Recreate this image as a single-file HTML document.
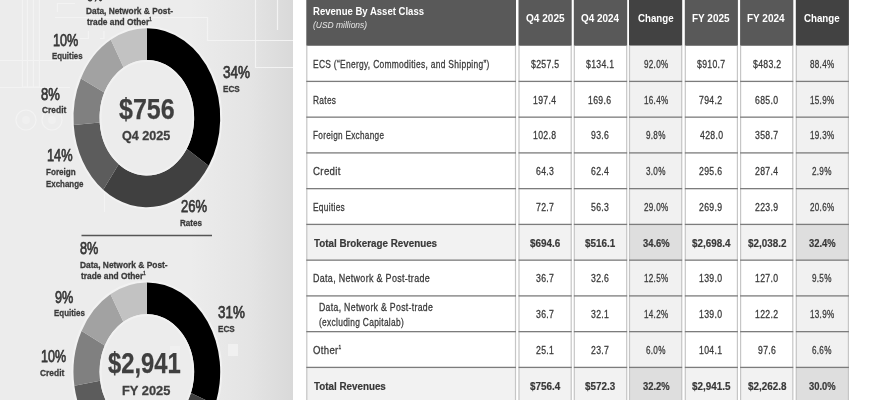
<!DOCTYPE html>
<html><head><meta charset="utf-8"><style>
html,body{margin:0;padding:0}
body{width:870px;height:400px;overflow:hidden;position:relative;background:#fff;font-family:"Liberation Sans",sans-serif}
.t{position:absolute;white-space:nowrap;line-height:1;transform-origin:0 0}
.sup{font-size:0.5em;vertical-align:0.9em}
#panel{position:absolute;left:0;top:0;width:293px;height:400px;background:linear-gradient(90deg,#ececec 0px,#ececec 190px,#e4e4e4 250px,#d9d9d9 293px)}
svg{position:absolute;left:0;top:0}
#wrap{position:absolute;left:0;top:0;width:870px;height:400px;filter:grayscale(1) blur(0.3px)}
.hd{position:absolute;top:0;height:45.5px}
.cell{position:absolute}
.vb{position:absolute;top:45px;height:355px;width:1px;background:#cfcfcf}
.hb{position:absolute;height:1px;background:#8f8f8f}
</style></head><body><div id="wrap">
<div id="panel"></div>
<svg width="293" height="400" viewBox="0 0 293 400">
<g stroke="#f3f3f3" stroke-width="1.2" fill="none">
<path d="M22.5 0V87M27.5 0V87M33.5 0V87M39.5 0V87M22.5 87H39.5"/>
<path d="M0 60.5H80M0 87.5H70"/>
<path d="M55 17.5H207.5V40.5H293M255.5 0V67.5H293M277.5 0V30"/>
<path d="M57.5 3V12M57.5 3.5H75M88.5 31V38.5H80M100 38.5H104V31"/>
<circle cx="26" cy="120" r="10"/><circle cx="52" cy="120" r="10"/>
<path d="M104.5 185V212"/>
</g>
<g fill="#f0f0f0"><circle cx="26" cy="120" r="4"/><circle cx="52" cy="120" r="4"/>
<rect x="170" y="346" width="10" height="14"/><rect x="228" y="344" width="10" height="12"/></g>
<ellipse cx="146.85" cy="117.75" rx="74.35" ry="90.45" fill="none" stroke="#f2f2f2" stroke-width="2"/><path d="M146.85 28.30A73.35 89.45 0 0 1 208.69 165.86L186.77 148.81A47.35 57.75 0 0 0 146.85 60.00Z" fill="#000000"/><path d="M208.69 165.86A73.35 89.45 0 0 1 103.24 189.68L118.70 164.19A47.35 57.75 0 0 0 186.77 148.81Z" fill="#404040"/><path d="M103.24 189.68A73.35 89.45 0 0 1 73.74 124.93L99.65 122.39A47.35 57.75 0 0 0 118.70 164.19Z" fill="#5c5c5c"/><path d="M73.74 124.93A73.35 89.45 0 0 1 80.92 78.55L104.29 92.44A47.35 57.75 0 0 0 99.65 122.39Z" fill="#808080"/><path d="M80.92 78.55A73.35 89.45 0 0 1 110.83 39.83L123.60 67.44A47.35 57.75 0 0 0 104.29 92.44Z" fill="#a2a2a2"/><path d="M110.83 39.83A73.35 89.45 0 0 1 146.85 28.30L146.85 60.00A47.35 57.75 0 0 0 123.60 67.44Z" fill="#c2c2c2"/><ellipse cx="146.85" cy="117.75" rx="46.25" ry="56.65" fill="none" stroke="#f1f1f1" stroke-width="2"/><ellipse cx="146.85" cy="371.85" rx="74.35" ry="90.45" fill="none" stroke="#f2f2f2" stroke-width="2"/><path d="M146.85 282.40A73.35 89.45 0 0 1 215.12 404.57L190.92 392.98A47.35 57.75 0 0 0 146.85 314.10Z" fill="#000000"/><path d="M215.12 404.57A73.35 89.45 0 0 1 111.67 450.34L124.14 422.53A47.35 57.75 0 0 0 190.92 392.98Z" fill="#404040"/><path d="M111.67 450.34A73.35 89.45 0 0 1 74.40 385.78L100.08 380.85A47.35 57.75 0 0 0 124.14 422.53Z" fill="#5c5c5c"/><path d="M74.40 385.78A73.35 89.45 0 0 1 81.62 330.94L104.74 345.44A47.35 57.75 0 0 0 100.08 380.85Z" fill="#808080"/><path d="M81.62 330.94A73.35 89.45 0 0 1 110.45 294.19L123.35 321.71A47.35 57.75 0 0 0 104.74 345.44Z" fill="#a2a2a2"/><path d="M110.45 294.19A73.35 89.45 0 0 1 146.85 282.40L146.85 314.10A47.35 57.75 0 0 0 123.35 321.71Z" fill="#c2c2c2"/><ellipse cx="146.85" cy="371.85" rx="46.25" ry="56.65" fill="none" stroke="#f1f1f1" stroke-width="2"/>
<line x1="81.5" y1="235.5" x2="212" y2="235.5" stroke="#555" stroke-width="1.3"/>
</svg>
<svg width="870" height="400" viewBox="0 0 870 400"><rect x="306.30" y="0" width="209.70" height="45.75" fill="#595959"/><rect x="306.30" y="224.40" width="209.70" height="35.75" fill="#f2f2f2"/><rect x="306.30" y="367.40" width="209.70" height="35.75" fill="#f2f2f2"/><rect x="306.20" y="45.75" width="1.20" height="354.25" fill="#c6c6c6"/><rect x="514.90" y="45.75" width="1.20" height="354.25" fill="#c6c6c6"/><rect x="306.30" y="80.75" width="209.70" height="1.30" fill="#7c7c7c"/><rect x="306.30" y="116.50" width="209.70" height="1.30" fill="#7c7c7c"/><rect x="306.30" y="152.25" width="209.70" height="1.30" fill="#7c7c7c"/><rect x="306.30" y="188.00" width="209.70" height="1.30" fill="#7c7c7c"/><rect x="306.30" y="223.75" width="209.70" height="1.30" fill="#7c7c7c"/><rect x="306.30" y="259.50" width="209.70" height="1.30" fill="#7c7c7c"/><rect x="306.30" y="295.25" width="209.70" height="1.30" fill="#7c7c7c"/><rect x="306.30" y="331.00" width="209.70" height="1.30" fill="#7c7c7c"/><rect x="306.30" y="366.75" width="209.70" height="1.30" fill="#7c7c7c"/><rect x="518.50" y="0" width="53.20" height="45.75" fill="#595959"/><rect x="518.50" y="224.40" width="53.20" height="35.75" fill="#f2f2f2"/><rect x="518.50" y="367.40" width="53.20" height="35.75" fill="#f2f2f2"/><rect x="518.40" y="45.75" width="1.20" height="354.25" fill="#c6c6c6"/><rect x="570.60" y="45.75" width="1.20" height="354.25" fill="#c6c6c6"/><rect x="518.50" y="80.75" width="53.20" height="1.30" fill="#7c7c7c"/><rect x="518.50" y="116.50" width="53.20" height="1.30" fill="#7c7c7c"/><rect x="518.50" y="152.25" width="53.20" height="1.30" fill="#7c7c7c"/><rect x="518.50" y="188.00" width="53.20" height="1.30" fill="#7c7c7c"/><rect x="518.50" y="223.75" width="53.20" height="1.30" fill="#7c7c7c"/><rect x="518.50" y="259.50" width="53.20" height="1.30" fill="#7c7c7c"/><rect x="518.50" y="295.25" width="53.20" height="1.30" fill="#7c7c7c"/><rect x="518.50" y="331.00" width="53.20" height="1.30" fill="#7c7c7c"/><rect x="518.50" y="366.75" width="53.20" height="1.30" fill="#7c7c7c"/><rect x="573.80" y="0" width="53.40" height="45.75" fill="#595959"/><rect x="573.80" y="224.40" width="53.40" height="35.75" fill="#f2f2f2"/><rect x="573.80" y="367.40" width="53.40" height="35.75" fill="#f2f2f2"/><rect x="573.70" y="45.75" width="1.20" height="354.25" fill="#c6c6c6"/><rect x="626.10" y="45.75" width="1.20" height="354.25" fill="#c6c6c6"/><rect x="573.80" y="80.75" width="53.40" height="1.30" fill="#7c7c7c"/><rect x="573.80" y="116.50" width="53.40" height="1.30" fill="#7c7c7c"/><rect x="573.80" y="152.25" width="53.40" height="1.30" fill="#7c7c7c"/><rect x="573.80" y="188.00" width="53.40" height="1.30" fill="#7c7c7c"/><rect x="573.80" y="223.75" width="53.40" height="1.30" fill="#7c7c7c"/><rect x="573.80" y="259.50" width="53.40" height="1.30" fill="#7c7c7c"/><rect x="573.80" y="295.25" width="53.40" height="1.30" fill="#7c7c7c"/><rect x="573.80" y="331.00" width="53.40" height="1.30" fill="#7c7c7c"/><rect x="573.80" y="366.75" width="53.40" height="1.30" fill="#7c7c7c"/><rect x="629.00" y="0" width="53.20" height="45.75" fill="#424242"/><rect x="629.00" y="45.75" width="53.20" height="35.65" fill="#f1f1f1"/><rect x="629.00" y="81.40" width="53.20" height="35.75" fill="#f1f1f1"/><rect x="629.00" y="117.15" width="53.20" height="35.75" fill="#f1f1f1"/><rect x="629.00" y="152.90" width="53.20" height="35.75" fill="#f1f1f1"/><rect x="629.00" y="188.65" width="53.20" height="35.75" fill="#f1f1f1"/><rect x="629.00" y="224.40" width="53.20" height="35.75" fill="#dedede"/><rect x="629.00" y="260.15" width="53.20" height="35.75" fill="#f1f1f1"/><rect x="629.00" y="295.90" width="53.20" height="35.75" fill="#f1f1f1"/><rect x="629.00" y="331.65" width="53.20" height="35.75" fill="#f1f1f1"/><rect x="629.00" y="367.40" width="53.20" height="35.75" fill="#dedede"/><rect x="628.90" y="45.75" width="1.20" height="354.25" fill="#c6c6c6"/><rect x="681.10" y="45.75" width="1.20" height="354.25" fill="#c6c6c6"/><rect x="629.00" y="80.75" width="53.20" height="1.30" fill="#7c7c7c"/><rect x="629.00" y="116.50" width="53.20" height="1.30" fill="#7c7c7c"/><rect x="629.00" y="152.25" width="53.20" height="1.30" fill="#7c7c7c"/><rect x="629.00" y="188.00" width="53.20" height="1.30" fill="#7c7c7c"/><rect x="629.00" y="223.75" width="53.20" height="1.30" fill="#7c7c7c"/><rect x="629.00" y="259.50" width="53.20" height="1.30" fill="#7c7c7c"/><rect x="629.00" y="295.25" width="53.20" height="1.30" fill="#7c7c7c"/><rect x="629.00" y="331.00" width="53.20" height="1.30" fill="#7c7c7c"/><rect x="629.00" y="366.75" width="53.20" height="1.30" fill="#7c7c7c"/><rect x="684.80" y="0" width="53.10" height="45.75" fill="#595959"/><rect x="684.80" y="224.40" width="53.10" height="35.75" fill="#f2f2f2"/><rect x="684.80" y="367.40" width="53.10" height="35.75" fill="#f2f2f2"/><rect x="684.70" y="45.75" width="1.20" height="354.25" fill="#c6c6c6"/><rect x="736.80" y="45.75" width="1.20" height="354.25" fill="#c6c6c6"/><rect x="684.80" y="80.75" width="53.10" height="1.30" fill="#7c7c7c"/><rect x="684.80" y="116.50" width="53.10" height="1.30" fill="#7c7c7c"/><rect x="684.80" y="152.25" width="53.10" height="1.30" fill="#7c7c7c"/><rect x="684.80" y="188.00" width="53.10" height="1.30" fill="#7c7c7c"/><rect x="684.80" y="223.75" width="53.10" height="1.30" fill="#7c7c7c"/><rect x="684.80" y="259.50" width="53.10" height="1.30" fill="#7c7c7c"/><rect x="684.80" y="295.25" width="53.10" height="1.30" fill="#7c7c7c"/><rect x="684.80" y="331.00" width="53.10" height="1.30" fill="#7c7c7c"/><rect x="684.80" y="366.75" width="53.10" height="1.30" fill="#7c7c7c"/><rect x="740.10" y="0" width="53.20" height="45.75" fill="#595959"/><rect x="740.10" y="224.40" width="53.20" height="35.75" fill="#f2f2f2"/><rect x="740.10" y="367.40" width="53.20" height="35.75" fill="#f2f2f2"/><rect x="740.00" y="45.75" width="1.20" height="354.25" fill="#c6c6c6"/><rect x="792.20" y="45.75" width="1.20" height="354.25" fill="#c6c6c6"/><rect x="740.10" y="80.75" width="53.20" height="1.30" fill="#7c7c7c"/><rect x="740.10" y="116.50" width="53.20" height="1.30" fill="#7c7c7c"/><rect x="740.10" y="152.25" width="53.20" height="1.30" fill="#7c7c7c"/><rect x="740.10" y="188.00" width="53.20" height="1.30" fill="#7c7c7c"/><rect x="740.10" y="223.75" width="53.20" height="1.30" fill="#7c7c7c"/><rect x="740.10" y="259.50" width="53.20" height="1.30" fill="#7c7c7c"/><rect x="740.10" y="295.25" width="53.20" height="1.30" fill="#7c7c7c"/><rect x="740.10" y="331.00" width="53.20" height="1.30" fill="#7c7c7c"/><rect x="740.10" y="366.75" width="53.20" height="1.30" fill="#7c7c7c"/><rect x="795.80" y="0" width="53.10" height="45.75" fill="#424242"/><rect x="795.80" y="45.75" width="53.10" height="35.65" fill="#f1f1f1"/><rect x="795.80" y="81.40" width="53.10" height="35.75" fill="#f1f1f1"/><rect x="795.80" y="117.15" width="53.10" height="35.75" fill="#f1f1f1"/><rect x="795.80" y="152.90" width="53.10" height="35.75" fill="#f1f1f1"/><rect x="795.80" y="188.65" width="53.10" height="35.75" fill="#f1f1f1"/><rect x="795.80" y="224.40" width="53.10" height="35.75" fill="#dedede"/><rect x="795.80" y="260.15" width="53.10" height="35.75" fill="#f1f1f1"/><rect x="795.80" y="295.90" width="53.10" height="35.75" fill="#f1f1f1"/><rect x="795.80" y="331.65" width="53.10" height="35.75" fill="#f1f1f1"/><rect x="795.80" y="367.40" width="53.10" height="35.75" fill="#dedede"/><rect x="795.70" y="45.75" width="1.20" height="354.25" fill="#c6c6c6"/><rect x="847.80" y="45.75" width="1.20" height="354.25" fill="#c6c6c6"/><rect x="795.80" y="80.75" width="53.10" height="1.30" fill="#7c7c7c"/><rect x="795.80" y="116.50" width="53.10" height="1.30" fill="#7c7c7c"/><rect x="795.80" y="152.25" width="53.10" height="1.30" fill="#7c7c7c"/><rect x="795.80" y="188.00" width="53.10" height="1.30" fill="#7c7c7c"/><rect x="795.80" y="223.75" width="53.10" height="1.30" fill="#7c7c7c"/><rect x="795.80" y="259.50" width="53.10" height="1.30" fill="#7c7c7c"/><rect x="795.80" y="295.25" width="53.10" height="1.30" fill="#7c7c7c"/><rect x="795.80" y="331.00" width="53.10" height="1.30" fill="#7c7c7c"/><rect x="795.80" y="366.75" width="53.10" height="1.30" fill="#7c7c7c"/></svg>
<div class="t" style="left:87.38px;top:-13.00px;font-size:17.4px;font-weight:400;font-style:normal;color:#383838;-webkit-text-stroke:0.75px #383838;transform:scaleX(0.6250)">8%</div>
<div class="t" style="left:85.85px;top:5.80px;font-size:9.8px;font-weight:700;font-style:normal;color:#3a3a3a;-webkit-text-stroke:0.3px #3a3a3a;transform:scaleX(0.8495)">Data, Network &amp; Post-</div>
<div class="t" style="left:86.70px;top:17.30px;font-size:9.8px;font-weight:700;font-style:normal;color:#3a3a3a;-webkit-text-stroke:0.3px #3a3a3a;transform:scaleX(0.8533)">trade and Other<span class="sup">1</span></div>
<div class="t" style="left:53.27px;top:31.50px;font-size:17.4px;font-weight:400;font-style:normal;color:#383838;-webkit-text-stroke:0.75px #383838;transform:scaleX(0.7273)">10%</div>
<div class="t" style="left:52.00px;top:50.50px;font-size:9.8px;font-weight:700;font-style:normal;color:#3a3a3a;-webkit-text-stroke:0.3px #3a3a3a;transform:scaleX(0.8027)">Equities</div>
<div class="t" style="left:41.05px;top:85.80px;font-size:17.4px;font-weight:400;font-style:normal;color:#383838;-webkit-text-stroke:0.75px #383838;transform:scaleX(0.7500)">8%</div>
<div class="t" style="left:42.00px;top:105.30px;font-size:9.8px;font-weight:700;font-style:normal;color:#3a3a3a;-webkit-text-stroke:0.3px #3a3a3a;transform:scaleX(0.8571)">Credit</div>
<div class="t" style="left:47.26px;top:146.70px;font-size:17.4px;font-weight:400;font-style:normal;color:#383838;-webkit-text-stroke:0.75px #383838;transform:scaleX(0.7364)">14%</div>
<div class="t" style="left:45.97px;top:166.80px;font-size:9.8px;font-weight:700;font-style:normal;color:#3a3a3a;-webkit-text-stroke:0.3px #3a3a3a;transform:scaleX(0.8257)">Foreign</div>
<div class="t" style="left:45.99px;top:178.50px;font-size:9.8px;font-weight:700;font-style:normal;color:#3a3a3a;-webkit-text-stroke:0.3px #3a3a3a;transform:scaleX(0.8089)">Exchange</div>
<div class="t" style="left:222.97px;top:63.90px;font-size:17.4px;font-weight:400;font-style:normal;color:#383838;-webkit-text-stroke:0.75px #383838;transform:scaleX(0.7773)">34%</div>
<div class="t" style="left:223.17px;top:83.50px;font-size:9.8px;font-weight:700;font-style:normal;color:#3a3a3a;-webkit-text-stroke:0.3px #3a3a3a;transform:scaleX(0.8289)">ECS</div>
<div class="t" style="left:180.75px;top:197.90px;font-size:17.4px;font-weight:400;font-style:normal;color:#383838;-webkit-text-stroke:0.75px #383838;transform:scaleX(0.7500)">26%</div>
<div class="t" style="left:180.42px;top:217.60px;font-size:9.8px;font-weight:700;font-style:normal;color:#3a3a3a;-webkit-text-stroke:0.3px #3a3a3a;transform:scaleX(0.8260)">Rates</div>
<div class="t" style="left:118.66px;top:94.20px;font-size:29.8px;font-weight:700;font-style:normal;color:#3f3f3f;-webkit-text-stroke:0.25px #3f3f3f;transform:scaleX(0.8391)">$756</div>
<div class="t" style="left:122.20px;top:129.30px;font-size:13.4px;font-weight:700;font-style:normal;color:#3f3f3f;-webkit-text-stroke:0.3px #3f3f3f;transform:scaleX(0.9412)">Q4 2025</div>
<div class="t" style="left:79.77px;top:239.90px;font-size:17.4px;font-weight:400;font-style:normal;color:#383838;-webkit-text-stroke:0.75px #383838;transform:scaleX(0.7292)">8%</div>
<div class="t" style="left:79.64px;top:260.10px;font-size:9.8px;font-weight:700;font-style:normal;color:#3a3a3a;-webkit-text-stroke:0.3px #3a3a3a;transform:scaleX(0.8564)">Data, Network &amp; Post-</div>
<div class="t" style="left:80.50px;top:271.40px;font-size:9.8px;font-weight:700;font-style:normal;color:#3a3a3a;-webkit-text-stroke:0.3px #3a3a3a;transform:scaleX(0.8533)">trade and Other<span class="sup">1</span></div>
<div class="t" style="left:54.52px;top:289.10px;font-size:17.4px;font-weight:400;font-style:normal;color:#383838;-webkit-text-stroke:0.75px #383838;transform:scaleX(0.7292)">9%</div>
<div class="t" style="left:54.19px;top:307.60px;font-size:9.8px;font-weight:700;font-style:normal;color:#3a3a3a;-webkit-text-stroke:0.3px #3a3a3a;transform:scaleX(0.8108)">Equities</div>
<div class="t" style="left:40.53px;top:348.25px;font-size:17.4px;font-weight:400;font-style:normal;color:#383838;-webkit-text-stroke:0.75px #383838;transform:scaleX(0.7197)">10%</div>
<div class="t" style="left:39.75px;top:367.60px;font-size:9.8px;font-weight:700;font-style:normal;color:#3a3a3a;-webkit-text-stroke:0.3px #3a3a3a;transform:scaleX(0.8571)">Credit</div>
<div class="t" style="left:218.23px;top:303.90px;font-size:17.4px;font-weight:400;font-style:normal;color:#383838;-webkit-text-stroke:0.75px #383838;transform:scaleX(0.7697)">31%</div>
<div class="t" style="left:218.17px;top:323.60px;font-size:9.8px;font-weight:700;font-style:normal;color:#3a3a3a;-webkit-text-stroke:0.3px #3a3a3a;transform:scaleX(0.8289)">ECS</div>
<div class="t" style="left:108.30px;top:348.00px;font-size:29.8px;font-weight:700;font-style:normal;color:#3f3f3f;-webkit-text-stroke:0.25px #3f3f3f;transform:scaleX(0.7989)">$2,941</div>
<div class="t" style="left:122.24px;top:384.20px;font-size:13.4px;font-weight:700;font-style:normal;color:#3f3f3f;-webkit-text-stroke:0.3px #3f3f3f;transform:scaleX(0.9592)">FY 2025</div>
<div class="t" style="left:312.68px;top:4.50px;font-size:11.6px;font-weight:700;font-style:normal;color:#ffffff;transform:scaleX(0.8231)">Revenue By Asset Class</div>
<div class="t" style="left:313.20px;top:20.40px;font-size:9.4px;font-weight:400;font-style:italic;color:#e4e4e4;transform:scaleX(0.9034)">(USD millions)</div>
<div class="t" style="left:525.80px;top:12.20px;font-size:11.6px;font-weight:700;font-style:normal;color:#ffffff;transform:scaleX(0.8682)">Q4 2025</div>
<div class="t" style="left:580.90px;top:12.20px;font-size:11.6px;font-weight:700;font-style:normal;color:#ffffff;transform:scaleX(0.8556)">Q4 2024</div>
<div class="t" style="left:638.10px;top:12.20px;font-size:11.6px;font-weight:700;font-style:normal;color:#ffffff;transform:scaleX(0.8381)">Change</div>
<div class="t" style="left:691.74px;top:12.20px;font-size:11.6px;font-weight:700;font-style:normal;color:#ffffff;transform:scaleX(0.8605)">FY 2025</div>
<div class="t" style="left:747.44px;top:12.20px;font-size:11.6px;font-weight:700;font-style:normal;color:#ffffff;transform:scaleX(0.8605)">FY 2024</div>
<div class="t" style="left:804.40px;top:12.20px;font-size:11.6px;font-weight:700;font-style:normal;color:#ffffff;transform:scaleX(0.8381)">Change</div>
<div class="t" style="left:313.06px;top:58.80px;font-size:11.4px;font-weight:400;font-style:normal;color:#3a3a3a;letter-spacing:0.4px;-webkit-text-stroke:0.3px #3a3a3a;transform:scaleX(0.7392)">ECS (&ldquo;Energy, Commodities, and Shipping&rdquo;)</div>
<div class="t" style="left:312.97px;top:94.55px;font-size:11.4px;font-weight:400;font-style:normal;color:#3a3a3a;letter-spacing:0.4px;-webkit-text-stroke:0.3px #3a3a3a;transform:scaleX(0.7333)">Rates</div>
<div class="t" style="left:312.98px;top:130.30px;font-size:11.4px;font-weight:400;font-style:normal;color:#3a3a3a;letter-spacing:0.4px;-webkit-text-stroke:0.3px #3a3a3a;transform:scaleX(0.7206)">Foreign Exchange</div>
<div class="t" style="left:312.85px;top:166.05px;font-size:11.4px;font-weight:400;font-style:normal;color:#3a3a3a;letter-spacing:0.4px;-webkit-text-stroke:0.3px #3a3a3a;transform:scaleX(0.8484)">Credit</div>
<div class="t" style="left:312.97px;top:201.80px;font-size:11.4px;font-weight:400;font-style:normal;color:#3a3a3a;letter-spacing:0.4px;-webkit-text-stroke:0.3px #3a3a3a;transform:scaleX(0.7333)">Equities</div>
<div class="t" style="left:313.80px;top:237.55px;font-size:11.4px;font-weight:700;font-style:normal;color:#383838;-webkit-text-stroke:0.2px #383838;transform:scaleX(0.8615)">Total Brokerage Revenues</div>
<div class="t" style="left:312.71px;top:273.30px;font-size:11.4px;font-weight:400;font-style:normal;color:#3a3a3a;letter-spacing:0.4px;-webkit-text-stroke:0.3px #3a3a3a;transform:scaleX(0.7850)">Data, Network &amp; Post-trade</div>
<div class="t" style="left:319.23px;top:301.70px;font-size:11.4px;font-weight:400;font-style:normal;color:#3a3a3a;letter-spacing:0.4px;-webkit-text-stroke:0.3px #3a3a3a;transform:scaleX(0.7660)">Data, Network &amp; Post-trade</div>
<div class="t" style="left:319.26px;top:316.70px;font-size:11.4px;font-weight:400;font-style:normal;color:#3a3a3a;letter-spacing:0.4px;-webkit-text-stroke:0.3px #3a3a3a;transform:scaleX(0.7368)">(excluding Capitalab)</div>
<div class="t" style="left:313.30px;top:344.68px;font-size:11.4px;font-weight:400;font-style:normal;color:#3a3a3a;letter-spacing:0.4px;-webkit-text-stroke:0.3px #3a3a3a;transform:scaleX(0.8394)">Other<span class="sup">1</span></div>
<div class="t" style="left:313.80px;top:380.55px;font-size:11.4px;font-weight:700;font-style:normal;color:#383838;-webkit-text-stroke:0.2px #383838;transform:scaleX(0.8614)">Total Revenues</div>
<div class="t" style="left:530.89px;top:58.80px;font-size:11.4px;font-weight:400;font-style:normal;color:#3a3a3a;letter-spacing:0.4px;-webkit-text-stroke:0.3px #3a3a3a;transform:scaleX(0.7629)">$257.5</div>
<div class="t" style="left:586.47px;top:58.80px;font-size:11.4px;font-weight:400;font-style:normal;color:#3a3a3a;letter-spacing:0.4px;-webkit-text-stroke:0.3px #3a3a3a;transform:scaleX(0.7629)">$134.1</div>
<div class="t" style="left:643.88px;top:58.80px;font-size:11.4px;font-weight:400;font-style:normal;color:#3a3a3a;letter-spacing:0.4px;-webkit-text-stroke:0.3px #3a3a3a;transform:scaleX(0.7130)">92.0%</div>
<div class="t" style="left:697.37px;top:58.80px;font-size:11.4px;font-weight:400;font-style:normal;color:#3a3a3a;letter-spacing:0.4px;-webkit-text-stroke:0.3px #3a3a3a;transform:scaleX(0.7629)">$910.7</div>
<div class="t" style="left:753.07px;top:58.80px;font-size:11.4px;font-weight:400;font-style:normal;color:#3a3a3a;letter-spacing:0.4px;-webkit-text-stroke:0.3px #3a3a3a;transform:scaleX(0.7629)">$483.2</div>
<div class="t" style="left:809.88px;top:58.80px;font-size:11.4px;font-weight:400;font-style:normal;color:#3a3a3a;letter-spacing:0.4px;-webkit-text-stroke:0.3px #3a3a3a;transform:scaleX(0.7130)">88.4%</div>
<div class="t" style="left:533.17px;top:94.55px;font-size:11.4px;font-weight:400;font-style:normal;color:#3a3a3a;letter-spacing:0.4px;-webkit-text-stroke:0.3px #3a3a3a;transform:scaleX(0.7629)">197.4</div>
<div class="t" style="left:588.37px;top:94.55px;font-size:11.4px;font-weight:400;font-style:normal;color:#3a3a3a;letter-spacing:0.4px;-webkit-text-stroke:0.3px #3a3a3a;transform:scaleX(0.7629)">169.6</div>
<div class="t" style="left:643.52px;top:94.55px;font-size:11.4px;font-weight:400;font-style:normal;color:#3a3a3a;letter-spacing:0.4px;-webkit-text-stroke:0.3px #3a3a3a;transform:scaleX(0.7130)">16.4%</div>
<div class="t" style="left:699.27px;top:94.55px;font-size:11.4px;font-weight:400;font-style:normal;color:#3a3a3a;letter-spacing:0.4px;-webkit-text-stroke:0.3px #3a3a3a;transform:scaleX(0.7629)">794.2</div>
<div class="t" style="left:754.97px;top:94.55px;font-size:11.4px;font-weight:400;font-style:normal;color:#3a3a3a;letter-spacing:0.4px;-webkit-text-stroke:0.3px #3a3a3a;transform:scaleX(0.7629)">685.0</div>
<div class="t" style="left:809.52px;top:94.55px;font-size:11.4px;font-weight:400;font-style:normal;color:#3a3a3a;letter-spacing:0.4px;-webkit-text-stroke:0.3px #3a3a3a;transform:scaleX(0.7130)">15.9%</div>
<div class="t" style="left:533.17px;top:130.30px;font-size:11.4px;font-weight:400;font-style:normal;color:#3a3a3a;letter-spacing:0.4px;-webkit-text-stroke:0.3px #3a3a3a;transform:scaleX(0.7629)">102.8</div>
<div class="t" style="left:591.43px;top:130.30px;font-size:11.4px;font-weight:400;font-style:normal;color:#3a3a3a;letter-spacing:0.4px;-webkit-text-stroke:0.3px #3a3a3a;transform:scaleX(0.7629)">93.6</div>
<div class="t" style="left:646.37px;top:130.30px;font-size:11.4px;font-weight:400;font-style:normal;color:#3a3a3a;letter-spacing:0.4px;-webkit-text-stroke:0.3px #3a3a3a;transform:scaleX(0.7130)">9.8%</div>
<div class="t" style="left:699.66px;top:130.30px;font-size:11.4px;font-weight:400;font-style:normal;color:#3a3a3a;letter-spacing:0.4px;-webkit-text-stroke:0.3px #3a3a3a;transform:scaleX(0.7629)">428.0</div>
<div class="t" style="left:754.97px;top:130.30px;font-size:11.4px;font-weight:400;font-style:normal;color:#3a3a3a;letter-spacing:0.4px;-webkit-text-stroke:0.3px #3a3a3a;transform:scaleX(0.7629)">358.7</div>
<div class="t" style="left:809.52px;top:130.30px;font-size:11.4px;font-weight:400;font-style:normal;color:#3a3a3a;letter-spacing:0.4px;-webkit-text-stroke:0.3px #3a3a3a;transform:scaleX(0.7130)">19.3%</div>
<div class="t" style="left:535.84px;top:166.05px;font-size:11.4px;font-weight:400;font-style:normal;color:#3a3a3a;letter-spacing:0.4px;-webkit-text-stroke:0.3px #3a3a3a;transform:scaleX(0.7629)">64.3</div>
<div class="t" style="left:591.04px;top:166.05px;font-size:11.4px;font-weight:400;font-style:normal;color:#3a3a3a;letter-spacing:0.4px;-webkit-text-stroke:0.3px #3a3a3a;transform:scaleX(0.7629)">62.4</div>
<div class="t" style="left:646.02px;top:166.05px;font-size:11.4px;font-weight:400;font-style:normal;color:#3a3a3a;letter-spacing:0.4px;-webkit-text-stroke:0.3px #3a3a3a;transform:scaleX(0.7130)">3.0%</div>
<div class="t" style="left:699.27px;top:166.05px;font-size:11.4px;font-weight:400;font-style:normal;color:#3a3a3a;letter-spacing:0.4px;-webkit-text-stroke:0.3px #3a3a3a;transform:scaleX(0.7629)">295.6</div>
<div class="t" style="left:754.97px;top:166.05px;font-size:11.4px;font-weight:400;font-style:normal;color:#3a3a3a;letter-spacing:0.4px;-webkit-text-stroke:0.3px #3a3a3a;transform:scaleX(0.7629)">287.4</div>
<div class="t" style="left:812.02px;top:166.05px;font-size:11.4px;font-weight:400;font-style:normal;color:#3a3a3a;letter-spacing:0.4px;-webkit-text-stroke:0.3px #3a3a3a;transform:scaleX(0.7130)">2.9%</div>
<div class="t" style="left:535.84px;top:201.80px;font-size:11.4px;font-weight:400;font-style:normal;color:#3a3a3a;letter-spacing:0.4px;-webkit-text-stroke:0.3px #3a3a3a;transform:scaleX(0.7629)">72.7</div>
<div class="t" style="left:591.04px;top:201.80px;font-size:11.4px;font-weight:400;font-style:normal;color:#3a3a3a;letter-spacing:0.4px;-webkit-text-stroke:0.3px #3a3a3a;transform:scaleX(0.7629)">56.3</div>
<div class="t" style="left:643.52px;top:201.80px;font-size:11.4px;font-weight:400;font-style:normal;color:#3a3a3a;letter-spacing:0.4px;-webkit-text-stroke:0.3px #3a3a3a;transform:scaleX(0.7130)">29.0%</div>
<div class="t" style="left:699.27px;top:201.80px;font-size:11.4px;font-weight:400;font-style:normal;color:#3a3a3a;letter-spacing:0.4px;-webkit-text-stroke:0.3px #3a3a3a;transform:scaleX(0.7629)">269.9</div>
<div class="t" style="left:754.97px;top:201.80px;font-size:11.4px;font-weight:400;font-style:normal;color:#3a3a3a;letter-spacing:0.4px;-webkit-text-stroke:0.3px #3a3a3a;transform:scaleX(0.7629)">223.9</div>
<div class="t" style="left:809.52px;top:201.80px;font-size:11.4px;font-weight:400;font-style:normal;color:#3a3a3a;letter-spacing:0.4px;-webkit-text-stroke:0.3px #3a3a3a;transform:scaleX(0.7130)">20.6%</div>
<div class="t" style="left:529.84px;top:237.55px;font-size:11.4px;font-weight:700;font-style:normal;color:#383838;-webkit-text-stroke:0.2px #383838;transform:scaleX(0.8665)">$694.6</div>
<div class="t" style="left:585.04px;top:237.55px;font-size:11.4px;font-weight:700;font-style:normal;color:#383838;-webkit-text-stroke:0.2px #383838;transform:scaleX(0.8665)">$516.1</div>
<div class="t" style="left:642.77px;top:237.55px;font-size:11.4px;font-weight:700;font-style:normal;color:#383838;-webkit-text-stroke:0.2px #383838;transform:scaleX(0.8271)">34.6%</div>
<div class="t" style="left:691.60px;top:237.55px;font-size:11.4px;font-weight:700;font-style:normal;color:#383838;-webkit-text-stroke:0.2px #383838;transform:scaleX(0.8665)">$2,698.4</div>
<div class="t" style="left:747.74px;top:237.55px;font-size:11.4px;font-weight:700;font-style:normal;color:#383838;-webkit-text-stroke:0.2px #383838;transform:scaleX(0.8665)">$2,038.2</div>
<div class="t" style="left:808.77px;top:237.55px;font-size:11.4px;font-weight:700;font-style:normal;color:#383838;-webkit-text-stroke:0.2px #383838;transform:scaleX(0.8271)">32.4%</div>
<div class="t" style="left:535.84px;top:273.30px;font-size:11.4px;font-weight:400;font-style:normal;color:#3a3a3a;letter-spacing:0.4px;-webkit-text-stroke:0.3px #3a3a3a;transform:scaleX(0.7629)">36.7</div>
<div class="t" style="left:591.04px;top:273.30px;font-size:11.4px;font-weight:400;font-style:normal;color:#3a3a3a;letter-spacing:0.4px;-webkit-text-stroke:0.3px #3a3a3a;transform:scaleX(0.7629)">32.6</div>
<div class="t" style="left:643.52px;top:273.30px;font-size:11.4px;font-weight:400;font-style:normal;color:#3a3a3a;letter-spacing:0.4px;-webkit-text-stroke:0.3px #3a3a3a;transform:scaleX(0.7130)">12.5%</div>
<div class="t" style="left:699.27px;top:273.30px;font-size:11.4px;font-weight:400;font-style:normal;color:#3a3a3a;letter-spacing:0.4px;-webkit-text-stroke:0.3px #3a3a3a;transform:scaleX(0.7629)">139.0</div>
<div class="t" style="left:754.97px;top:273.30px;font-size:11.4px;font-weight:400;font-style:normal;color:#3a3a3a;letter-spacing:0.4px;-webkit-text-stroke:0.3px #3a3a3a;transform:scaleX(0.7629)">127.0</div>
<div class="t" style="left:812.37px;top:273.30px;font-size:11.4px;font-weight:400;font-style:normal;color:#3a3a3a;letter-spacing:0.4px;-webkit-text-stroke:0.3px #3a3a3a;transform:scaleX(0.7130)">9.5%</div>
<div class="t" style="left:535.84px;top:309.05px;font-size:11.4px;font-weight:400;font-style:normal;color:#3a3a3a;letter-spacing:0.4px;-webkit-text-stroke:0.3px #3a3a3a;transform:scaleX(0.7629)">36.7</div>
<div class="t" style="left:591.04px;top:309.05px;font-size:11.4px;font-weight:400;font-style:normal;color:#3a3a3a;letter-spacing:0.4px;-webkit-text-stroke:0.3px #3a3a3a;transform:scaleX(0.7629)">32.1</div>
<div class="t" style="left:643.52px;top:309.05px;font-size:11.4px;font-weight:400;font-style:normal;color:#3a3a3a;letter-spacing:0.4px;-webkit-text-stroke:0.3px #3a3a3a;transform:scaleX(0.7130)">14.2%</div>
<div class="t" style="left:699.27px;top:309.05px;font-size:11.4px;font-weight:400;font-style:normal;color:#3a3a3a;letter-spacing:0.4px;-webkit-text-stroke:0.3px #3a3a3a;transform:scaleX(0.7629)">139.0</div>
<div class="t" style="left:754.97px;top:309.05px;font-size:11.4px;font-weight:400;font-style:normal;color:#3a3a3a;letter-spacing:0.4px;-webkit-text-stroke:0.3px #3a3a3a;transform:scaleX(0.7629)">122.2</div>
<div class="t" style="left:809.52px;top:309.05px;font-size:11.4px;font-weight:400;font-style:normal;color:#3a3a3a;letter-spacing:0.4px;-webkit-text-stroke:0.3px #3a3a3a;transform:scaleX(0.7130)">13.9%</div>
<div class="t" style="left:535.84px;top:344.80px;font-size:11.4px;font-weight:400;font-style:normal;color:#3a3a3a;letter-spacing:0.4px;-webkit-text-stroke:0.3px #3a3a3a;transform:scaleX(0.7629)">25.1</div>
<div class="t" style="left:591.04px;top:344.80px;font-size:11.4px;font-weight:400;font-style:normal;color:#3a3a3a;letter-spacing:0.4px;-webkit-text-stroke:0.3px #3a3a3a;transform:scaleX(0.7629)">23.7</div>
<div class="t" style="left:646.02px;top:344.80px;font-size:11.4px;font-weight:400;font-style:normal;color:#3a3a3a;letter-spacing:0.4px;-webkit-text-stroke:0.3px #3a3a3a;transform:scaleX(0.7130)">6.0%</div>
<div class="t" style="left:699.27px;top:344.80px;font-size:11.4px;font-weight:400;font-style:normal;color:#3a3a3a;letter-spacing:0.4px;-webkit-text-stroke:0.3px #3a3a3a;transform:scaleX(0.7629)">104.1</div>
<div class="t" style="left:758.03px;top:344.80px;font-size:11.4px;font-weight:400;font-style:normal;color:#3a3a3a;letter-spacing:0.4px;-webkit-text-stroke:0.3px #3a3a3a;transform:scaleX(0.7629)">97.6</div>
<div class="t" style="left:812.02px;top:344.80px;font-size:11.4px;font-weight:400;font-style:normal;color:#3a3a3a;letter-spacing:0.4px;-webkit-text-stroke:0.3px #3a3a3a;transform:scaleX(0.7130)">6.6%</div>
<div class="t" style="left:529.84px;top:380.55px;font-size:11.4px;font-weight:700;font-style:normal;color:#383838;-webkit-text-stroke:0.2px #383838;transform:scaleX(0.8665)">$756.4</div>
<div class="t" style="left:585.04px;top:380.55px;font-size:11.4px;font-weight:700;font-style:normal;color:#383838;-webkit-text-stroke:0.2px #383838;transform:scaleX(0.8665)">$572.3</div>
<div class="t" style="left:642.77px;top:380.55px;font-size:11.4px;font-weight:700;font-style:normal;color:#383838;-webkit-text-stroke:0.2px #383838;transform:scaleX(0.8271)">32.2%</div>
<div class="t" style="left:692.04px;top:380.55px;font-size:11.4px;font-weight:700;font-style:normal;color:#383838;-webkit-text-stroke:0.2px #383838;transform:scaleX(0.8665)">$2,941.5</div>
<div class="t" style="left:747.74px;top:380.55px;font-size:11.4px;font-weight:700;font-style:normal;color:#383838;-webkit-text-stroke:0.2px #383838;transform:scaleX(0.8665)">$2,262.8</div>
<div class="t" style="left:808.77px;top:380.55px;font-size:11.4px;font-weight:700;font-style:normal;color:#383838;-webkit-text-stroke:0.2px #383838;transform:scaleX(0.8271)">30.0%</div>
</div></body></html>
